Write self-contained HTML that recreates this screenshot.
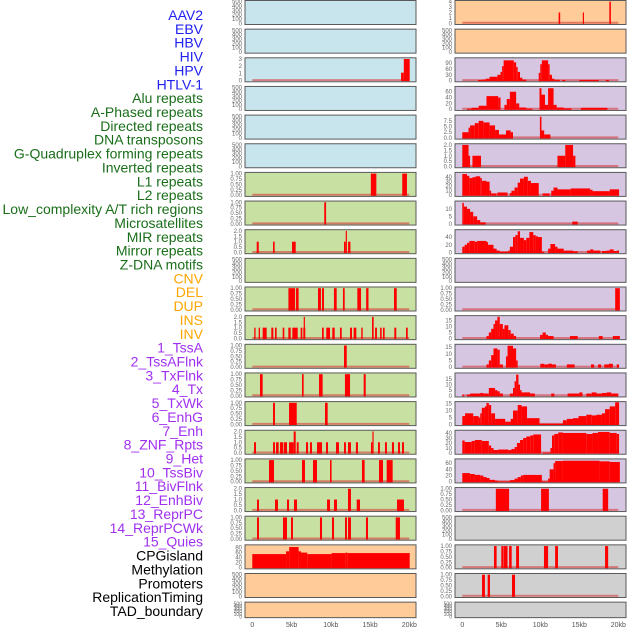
<!DOCTYPE html>
<html><head><meta charset="utf-8">
<style>
html,body{margin:0;padding:0;background:#fff;}
svg{display:block;font-family:"Liberation Sans",sans-serif;}
</style></head>
<body>
<svg id="chart" width="630" height="630" viewBox="0 0 630 630" xmlns="http://www.w3.org/2000/svg"></svg>
<script>
// ---- labels ----
const labelNames = ["AAV2","EBV","HBV","HIV","HPV","HTLV-1","Alu repeats","A-Phased repeats","Directed repeats","DNA transposons","G-Quadruplex forming repeats","Inverted repeats","L1 repeats","L2 repeats","Low_complexity A/T rich regions","Microsatellites","MIR repeats","Mirror repeats","Z-DNA motifs","CNV","DEL","DUP","INS","INV","1_TssA","2_TssAFlnk","3_TxFlnk","4_Tx","5_TxWk","6_EnhG","7_Enh","8_ZNF_Rpts","9_Het","10_TssBiv","11_BivFlnk","12_EnhBiv","13_ReprPC","14_ReprPCWk","15_Quies","CPGisland","Methylation","Promoters","ReplicationTiming","TAD_boundary"];
const labelGroups = [6,13,5,15,5];
const groupColors = ["#2020f0","#1a6e1a","#ffa500","#a030f0","#000000"];

// ---- tick label sets ----
const T500 = ["0","100","200","300","400","500"];
const T01 = ["0.00","0.25","0.50","0.75","1.00"];
const T2 = ["0.0","0.5","1.0","1.5","2.0"];
const T3 = ["0","1","2","3"];
const T4 = ["0","1","2","3","4"];
const xTickValues = [0,5,10,15,20];
const xTickLabels = ["0","5kb","10kb","15kb","20kb"];

// ---- left column series: [startKb, endKb, value] ----
const leftHPV = [[18.95,19.3,1.1],[19.3,20.05,3]];
const leftL1 = [[15.1,15.8,1],[19.1,19.7,1]];
const leftL2 = [[9.17,9.4,1]];
const leftLowComplexity = [[0.56,0.82,1],[2.64,2.85,1],[5.06,5.53,1],[11.68,11.9,1],[11.9,12.05,2],[12.2,12.5,1]];
const leftMirror = [[4.6,5.45,1],[5.57,5.9,1],[8.37,8.75,1],[8.88,9.13,1],[10.4,10.75,1],[11.55,11.77,1],[13.38,13.85,1],[14.5,14.8,1],[18.05,18.4,1]];
const leftCNV = [[0.25,0.42,1],[0.81,0.98,1],[1.32,1.83,1],[2.42,2.68,1],[2.89,3.1,1],[3.87,4.08,1],[4.59,4.89,1],[5.1,5.78,1],[6.16,6.37,1],[6.5,6.75,1],[6.55,6.68,2],[8.88,9.1,1],[9.42,9.9,1],[10.19,10.5,1],[11.17,11.39,1],[12.45,12.7,1],[12.91,13.25,1],[13.88,14.06,1],[15.25,15.46,2],[15.64,15.88,1],[16.28,16.48,1],[16.65,16.86,1],[18.09,18.34,1],[19.58,19.8,1]];
const leftDUP = [[11.68,12.03,1]];
const leftINS = [[0.98,1.32,1],[6.33,6.54,1],[8.5,8.96,1],[11.8,12.45,1],[14.19,14.45,1]];
const leftTssA = [[2.64,2.89,1],[4.68,5.66,1],[9.26,9.6,1]];
const leftTxFlnk = [[0.22,0.47,1],[2.64,2.89,1],[3.02,3.36,1],[3.53,3.95,1],[4.04,4.42,1],[4.68,5.27,1],[5.27,5.53,2],[5.66,5.91,1],[6.84,7.1,1],[7.35,7.6,1],[8.24,8.88,1],[9.39,9.64,1],[10.66,11.04,1],[11.68,11.93,1],[12.19,12.57,1],[13.2,13.46,1],[15.12,15.3,1],[15.3,15.45,2],[16.01,16.26,1],[16.9,17.15,1],[17.79,18.05,1],[18.56,18.81,1],[19.07,19.32,1]];
const leftTxWk = [[2.13,2.76,1],[6.33,6.71,1],[7.73,8.24,1],[9.9,10.1,1],[13.97,14.31,1],[16.14,16.65,1],[17.12,17.88,1]];
const leftEnh = [[0.6,0.85,1],[2.89,3.27,1],[4.42,4.68,1],[5.31,5.7,1],[9.52,9.9,1],[10.41,10.79,1],[12.19,12.57,2],[13.3,13.72,1],[18.43,19.32,1]];
const leftHet = [[0.6,0.85,1],[3.91,4.42,1],[4.93,5.18,1],[8.62,8.88,1],[10.15,10.41,1],[11.81,12.06,1],[12.19,12.57,1],[14.48,14.74,1],[18.27,18.81,1]];
const leftCpG = [[0,4.3,54],[4.3,4.7,65],[4.7,5.9,82],[5.9,6.2,65],[6.2,7.0,60],[7.0,10.1,54],[10.1,11.9,58],[11.9,12.1,60],[12.1,20.05,58]];

// ---- right column series ----
const rightAAV2 = [[12.35,12.55,2],[15.45,15.6,2],[18.85,19.05,4]];
const rightHPV = [[2,2.5,3],[2.5,3,5],[3,3.5,10],[3.5,4.5,20],[4.5,4.9,30],[4.9,5.1,45],[5.1,5.3,75],[5.3,6.6,105],[6.6,6.9,95],[6.9,7.1,70],[7.1,7.4,45],[7.4,7.7,15],[7.7,8.2,5],[9.8,10,40],[10,10.2,85],[10.2,11,105],[11,11.2,85],[11.2,11.5,30],[11.5,11.8,10],[11.8,12.5,4],[12.8,13.2,3],[15,17.5,3],[18.4,18.8,3]];
const rightAlu = [[0.6,1.2,2],[1.2,2.1,5],[2.1,3.1,12],[3.1,4.6,45],[4.6,4.9,40],[5.4,5.7,15],[5.7,6.1,35],[6.1,6.9,60],[6.9,7.3,20],[7.3,8.2,6],[8.2,9,2],[9.9,10.15,72],[10.15,10.6,50],[10.6,11,15],[11,11.7,72],[11.7,12.1,15],[12.1,13,6],[13,14,3],[15.2,18.6,5]];
const rightDirected = [[0,0.8,2.5],[0.8,1,4.5],[1,1.6,5.5],[1.6,2.1,6.5],[2.1,2.7,7.5],[2.7,3.5,6.8],[3.5,4.2,5.5],[4.2,4.7,3.5],[4.7,5.6,1.5],[5.6,6.2,3.3],[6.2,6.5,2.5],[9.95,10.15,9.3],[10.15,10.5,3.3],[10.5,11.3,1.5]];
const rightGQuad = [[0,0.8,2],[0.8,1,1],[1.3,2.4,1],[12.2,13.2,1],[13.2,14.2,2],[14.2,14.5,1]];
const rightL1 = [[0,0.6,47],[0.6,0.9,43],[0.9,1.3,38],[1.3,1.7,40],[1.7,2.3,42],[2.3,2.5,38],[2.5,3.1,32],[3.1,3.5,30],[3.5,3.7,10],[3.7,4.4,4],[4.5,5.8,6],[6.1,6.3,5],[6.3,6.7,10],[6.7,7.1,17],[7.1,7.4,28],[7.4,7.9,37],[7.9,8.4,41],[8.4,8.8,32],[8.8,9.8,27],[10.3,11.2,4],[11.4,11.7,10],[11.7,12.2,17],[12.2,13.9,13],[13.9,16.4,15],[16.4,16.7,12],[16.7,18.9,9],[18.9,20.1,13]];
const rightLowComplexity = [[0,0.2,14],[0.2,0.6,11.5],[0.6,1,10],[1,1.4,8],[1.4,1.9,5],[1.9,2.3,2.5],[2.3,3,1],[14.1,14.8,1.5]];
const rightMIR = [[0,0.3,15],[0.3,0.6,20],[0.6,0.9,25],[0.9,1.6,30],[1.6,1.9,28],[1.9,3.1,30],[3.1,3.3,27],[3.3,4,20],[4,4.4,10],[4.4,4.8,5],[4.8,5.9,2],[5.9,6.1,5],[6.1,6.5,15],[6.5,6.8,40],[6.8,7.1,45],[7.1,7.4,55],[7.4,7.9,38],[7.9,8.2,32],[8.2,8.6,38],[8.6,9.1,53],[9.1,9.4,45],[9.4,9.7,42],[9.7,10.2,40],[10.2,10.5,2],[11,11.3,10],[11.3,11.9,22],[11.9,12.2,15],[12.2,13,10],[13,14.2,5],[14.2,14.8,3],[16,16.4,5],[16.4,16.8,8],[16.8,17.7,5],[17.9,18.5,4],[18.5,18.9,5],[18.9,19.4,8],[19.4,19.8,4],[19.8,20.1,5]];
const rightDEL = [[19.6,20.2,1]];
const rightINS = [[3.1,3.4,2],[3.4,3.7,5],[3.7,4,8],[4,4.2,12],[4.2,4.5,15],[4.5,4.8,18],[4.8,5.2,12],[5.2,5.4,8],[5.4,5.9,11],[5.9,6.2,7],[6.2,6.6,4],[6.6,6.9,2],[9.97,10.3,3],[10.3,10.7,5],[10.7,11,3],[11,11.7,2],[13.8,14.8,2],[17.5,18,2],[19.3,20.2,2]];
const rightTssA = [[3.1,3.4,2],[3.4,3.7,5],[3.7,4,9],[4,4.5,14],[4.5,4.8,13],[4.8,5.2,2],[5.6,5.8,8],[5.8,6.5,16],[6.5,6.9,14],[6.9,7.1,5],[10,10.5,2.5],[10.5,11,2],[11,11.5,2.5],[11.5,12,2],[13.4,14.4,2],[16.5,16.9,2],[17.4,17.8,2],[18.2,18.8,2],[18.8,19.3,2.5],[19.8,20.1,2]];
const rightTssAFlnk = [[0,0.2,1],[0.6,1,1],[1,2.3,2],[2.3,2.7,2.5],[2.7,3.4,2],[3.4,4.2,7],[4.2,4.5,5],[4.5,4.8,4],[4.8,5.2,2],[6.1,6.5,2],[6.5,6.7,7],[6.7,6.9,13],[6.9,7.2,19],[7.2,7.4,10],[7.4,7.6,5],[7.6,8.7,3],[8.7,9.3,2],[11.4,11.8,2],[13.5,15,2],[15,15.4,3],[15.9,16.6,2],[16.6,17.2,3],[17.2,17.9,2],[17.9,18.5,2.5],[18.5,19.1,3],[19.1,20,2]];
const rightTxFlnk = [[0,0.35,6],[0.35,1.4,8],[1.4,2.1,6],[2.1,2.3,5],[2.3,2.5,8],[2.5,2.9,12],[2.9,3.1,13],[3.1,3.4,15.5],[3.4,3.7,14],[3.7,4.2,8],[4.2,5.5,4],[5.5,5.9,2],[5.9,6.2,2],[6.2,6.5,4],[6.5,7.1,10],[7.1,7.6,14],[7.6,8.3,13],[8.3,9.9,4.5],[9.9,12.9,0.5],[12.9,13.4,3],[13.4,14.2,4],[14.2,14.9,4.5],[14.9,15.9,6],[15.9,16.6,7],[16.6,17.2,6.5],[17.2,17.9,7],[17.9,18.3,8],[18.3,18.9,11],[18.9,19.6,13],[19.6,20.1,16]];
const rightTx = [[0,0.3,25],[0.3,1.2,22],[1.2,1.6,24],[1.6,2.5,26],[2.5,3.4,24],[3.4,3.7,15],[3.7,4,10],[4,4.6,6],[4.6,5.9,7],[5.9,6.3,6],[6.3,6.7,8],[6.7,7,12],[7,7.4,20],[7.4,7.8,26],[7.8,8.2,30],[8.2,8.7,33],[8.7,9.1,35],[9.1,10.1,37],[10.3,11.3,1],[11.3,11.5,10],[11.5,11.8,35],[11.8,12.3,38],[12.3,12.9,41],[12.9,15.9,40],[15.9,16.7,38],[16.7,17.4,40],[17.4,18.9,42],[18.9,19.8,40],[19.8,20.1,38]];
const rightTxWk = [[0,1,28],[1,1.6,25],[1.6,2.3,22],[2.3,2.7,20],[2.7,3.1,15],[3.1,3.5,12],[3.5,4.2,6],[4.2,4.6,3],[4.6,6.1,1],[6.1,6.7,5],[6.7,7.1,10],[7.1,7.5,15],[7.5,7.8,20],[7.8,10.2,22],[10.2,11,1],[11,11.2,10],[11.2,11.7,40],[11.7,11.9,60],[11.9,12.9,67],[12.9,17.6,68],[17.6,18.9,66],[18.9,20.2,64]];
const rightEnhG = [[4.3,6.0,1],[10.1,11.1,1],[18.0,18.7,1]];
const rightCpG = [[4.06,4.4,1],[5,5.26,1],[5.3,5.8,1],[6,6.33,1],[6.9,7.27,1],[10.47,11,1],[11.9,12.27,1],[18.3,18.7,1]];
const rightMethylation = [[2.53,2.9,1],[3.25,3.55,1],[6.37,6.76,1]];

const BLUE="#c8e4ec", GREEN="#c9e0a3", ORANGE="#ffcc99", PURPLE="#d6c6e2", GREY="#d0d0d0";
const leftPanels = [
 {bg:BLUE,ticks:T500,ymax:500,bars:[]},
 {bg:BLUE,ticks:T500,ymax:500,bars:[]},
 {bg:BLUE,ticks:T3,ymax:3,bars:leftHPV},
 {bg:BLUE,ticks:T500,ymax:500,bars:[]},
 {bg:BLUE,ticks:T500,ymax:500,bars:[]},
 {bg:BLUE,ticks:T500,ymax:500,bars:[]},
 {bg:GREEN,ticks:T01,ymax:1,bars:leftL1},
 {bg:GREEN,ticks:T01,ymax:1,bars:leftL2},
 {bg:GREEN,ticks:T2,ymax:2,bars:leftLowComplexity},
 {bg:GREEN,ticks:T500,ymax:500,bars:[]},
 {bg:GREEN,ticks:T01,ymax:1,bars:leftMirror},
 {bg:GREEN,ticks:T2,ymax:2,bars:leftCNV},
 {bg:GREEN,ticks:T01,ymax:1,bars:leftDUP},
 {bg:GREEN,ticks:T01,ymax:1,bars:leftINS},
 {bg:GREEN,ticks:T01,ymax:1,bars:leftTssA},
 {bg:GREEN,ticks:T2,ymax:2,bars:leftTxFlnk},
 {bg:GREEN,ticks:T01,ymax:1,bars:leftTxWk},
 {bg:GREEN,ticks:T2,ymax:2,bars:leftEnh},
 {bg:GREEN,ticks:T01,ymax:1,bars:leftHet},
 {bg:ORANGE,ticks:["0","20","40","60","80"],ymax:86,bars:leftCpG},
 {bg:ORANGE,ticks:T500,ymax:500,bars:[]},
 {bg:ORANGE,ticks:T500,ymax:500,bars:[]}
];
const rightPanels = [
 {bg:ORANGE,ticks:T4,ymax:4,bars:rightAAV2},
 {bg:ORANGE,ticks:T500,ymax:500,bars:[]},
 {bg:PURPLE,ticks:["0","30","60","90"],ymax:112,bars:rightHPV},
 {bg:PURPLE,ticks:["0","20","40","60"],ymax:74,bars:rightAlu},
 {bg:PURPLE,ticks:["0.0","2.5","5.0","7.5"],ymax:9.5,bars:rightDirected},
 {bg:PURPLE,ticks:T2,ymax:2,bars:rightGQuad},
 {bg:PURPLE,ticks:["0","10","20","30","40"],ymax:48,bars:rightL1},
 {bg:PURPLE,ticks:["0","5","10"],ymax:14.4,bars:rightLowComplexity},
 {bg:PURPLE,ticks:["0","20","40"],ymax:56,bars:rightMIR},
 {bg:PURPLE,ticks:T500,ymax:500,bars:[]},
 {bg:PURPLE,ticks:T01,ymax:1,bars:rightDEL},
 {bg:PURPLE,ticks:["0","5","10","15"],ymax:18,bars:rightINS},
 {bg:PURPLE,ticks:["0","5","10","15"],ymax:16.2,bars:rightTssA},
 {bg:PURPLE,ticks:["0","5","10","15"],ymax:19.4,bars:rightTssAFlnk},
 {bg:PURPLE,ticks:["0","5","10","15"],ymax:15.6,bars:rightTxFlnk},
 {bg:PURPLE,ticks:["0","10","20","30","40"],ymax:43,bars:rightTx},
 {bg:PURPLE,ticks:["0","20","40","60"],ymax:70,bars:rightTxWk},
 {bg:PURPLE,ticks:T01,ymax:1,bars:rightEnhG},
 {bg:GREY,ticks:T500,ymax:500,bars:[]},
 {bg:GREY,ticks:T01,ymax:1,bars:rightCpG},
 {bg:GREY,ticks:T01,ymax:1,bars:rightMethylation},
 {bg:GREY,ticks:T500,ymax:500,bars:[]}
];

const NS="http://www.w3.org/2000/svg";
const svg=document.getElementById('chart');
function mk(tag,attrs,parent){const e=document.createElementNS(NS,tag);for(const k in attrs)e.setAttribute(k,attrs[k]);(parent||svg).appendChild(e);return e;}

// labels
let li=0;
labelGroups.forEach((n,g)=>{for(let j=0;j<n;j++){
  const t=mk('text',{x:203,y:(15+13.86*li+5).toFixed(1),'text-anchor':'end','font-size':'14',fill:groupColors[g]});
  t.textContent=labelNames[li];
  
  
  li++;}});

const STEP=28.65;
const cols=[{x0:245,x1:416,zero:252.3,k:7.85,panels:leftPanels,name:'left'},{x0:455,x1:626,zero:462.3,k:7.8,panels:rightPanels,name:'right'}];
cols.forEach(col=>{
  const xs=kb=>col.zero+kb*col.k;
  col.panels.forEach((p,i)=>{
    const top=i*STEP+0.5;
    const h=(i===21)?15.5:24;
    const g=mk('g',{});
    
    
    mk('rect',{x:col.x0,y:top,width:col.x1-col.x0,height:h,fill:p.bg},g);
    const base=top+h-1.2, span=h-2.4;
    const ys=v=>base-v/p.ymax*span;
    // ticks
    const tickVals=p.ticks.map(Number);
    tickVals.forEach((v,ti)=>{
      const t=mk('text',{x:col.x0-3,y:(ys(v)+2).toFixed(1),'text-anchor':'end','font-size':(i===21&&p.ticks===T500)?'5':'6','fill':'#666'},g);
      t.textContent=p.ticks[ti];
      
      
    });
    // baseline
    if(p.ymax!==500){
      const bl=mk('line',{x1:xs(0),x2:xs(20),y1:base-0.5,y2:base-0.5,stroke:'rgba(215,60,60,0.6)','stroke-width':2},g);
      
      
    }
    p.bars.forEach(b=>{
      const y=ys(b[2]);
      const r=mk('rect',{x:xs(b[0]).toFixed(2),y:y.toFixed(2),width:Math.max(1.2,xs(b[1])-xs(b[0])).toFixed(2),height:(base-y+0.6).toFixed(2),fill:'#ff0000'},g);
      
      
    });
    mk('rect',{x:col.x0,y:top,width:col.x1-col.x0,height:h,fill:'none',stroke:'#5a5a5a','stroke-width':1},g);
  });
  xTickValues.forEach((v,i)=>{
    const t=mk('text',{x:xs(v).toFixed(1),y:627,'text-anchor':'middle','font-size':'7','fill':'#555'});
    t.textContent=xTickLabels[i];
    
    
  });
});
</script>
</body></html>
